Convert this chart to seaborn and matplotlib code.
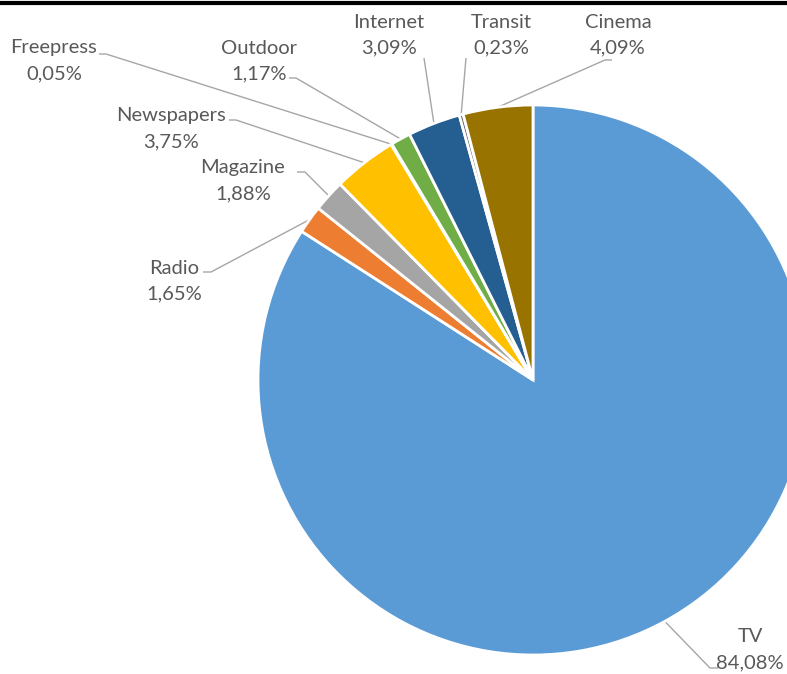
import numpy as np
import matplotlib
matplotlib.use("Agg")
import matplotlib.pyplot as plt
import seaborn as sns

categories = ["TV", "Radio", "Magazine", "Newspapers", "Freepress", "Outdoor", "Internet", "Transit", "Cinema"]
values = [84.08, 1.65, 1.88, 3.75, 0.05, 1.17, 3.09, 0.23, 4.09]
value_labels = ["84,08%", "1,65%", "1,88%", "3,75%", "0,05%", "1,17%", "3,09%", "0,23%", "4,09%"]
colors = ["#5B9BD5", "#ED7D31", "#A5A5A5", "#FFC000", "#4472C4", "#70AD47", "#255E91", "#636363", "#997300"]

sns.set_theme(style="white")
plt.rcParams['font.family'] = ['Lato', 'DejaVu Sans']

W, H = 787, 674
fig = plt.figure(figsize=(W / 100, H / 100), dpi=100)
ax = fig.add_axes([0, 0, 1, 1])

cx, cy, R = 533, H - 380, 275
wedges, _ = ax.pie(values, center=(cx, cy), radius=R, startangle=90, counterclock=False,
                   colors=sns.color_palette(colors),
                   wedgeprops=dict(edgecolor="white", linewidth=2))
ax.set_xlim(0, W)
ax.set_ylim(0, H)
ax.set_aspect("equal")
ax.axis("off")

layout = {
    "TV":         dict(tx=750, ty=637, pts=[(718, 668), (710, 668)]),
    "Radio":      dict(tx=174, ty=268, pts=[(203, 272), (211, 272)]),
    "Magazine":   dict(tx=243, ty=168, pts=[(297, 172), (305, 172)]),
    "Newspapers": dict(tx=171, ty=116, pts=[(229, 120), (236, 120)]),
    "Freepress":  dict(tx=54,  ty=48,  pts=[(99, 54), (106, 54)]),
    "Outdoor":    dict(tx=259, ty=48,  pts=[(289, 78), (296, 78)]),
    "Internet":   dict(tx=389, ty=22,  pts=[(424, 58)]),
    "Transit":    dict(tx=501, ty=22,  pts=[(466, 58)]),
    "Cinema":     dict(tx=618, ty=22,  pts=[(612, 60), (605, 60)]),
}

txtcol = "#595959"
for w, cat, vl in zip(wedges, categories, value_labels):
    lay = layout[cat]
    ang = np.deg2rad((w.theta1 + w.theta2) / 2)
    ex = cx + R * np.cos(ang)
    ey = cy + R * np.sin(ang)
    xs = [p[0] for p in lay["pts"]] + [ex]
    ys = [H - p[1] for p in lay["pts"]] + [ey]
    ax.plot(xs, ys, color="#A6A6A6", lw=1, solid_capstyle="butt", zorder=0.5)
    ax.text(lay["tx"], H - lay["ty"], cat, ha="center", va="center", fontsize=14.5, color=txtcol)
    ax.text(lay["tx"], H - lay["ty"] - 26, vl, ha="center", va="center", fontsize=14.5, color=txtcol)

ax.plot([0, W], [H - 3, H - 3], color="black", lw=3, solid_capstyle="butt")

fig.savefig("out.png", dpi=100, facecolor="white")
